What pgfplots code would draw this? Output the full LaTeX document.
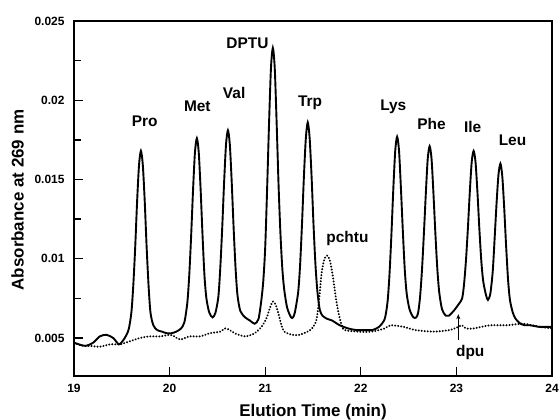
\documentclass[border=0pt]{standalone}
\usepackage{fontspec}
\setmainfont{Liberation Sans}
\usepackage{pgfplots}
\pgfplotsset{compat=1.18}
\usetikzlibrary{arrows.meta}
\begin{document}
\begin{tikzpicture}[x=1bp,y=1bp]
\begin{axis}[
  at={(0,0)}, anchor=south west,
  scale only axis, width=478bp, height=355bp,
  xmin=19, xmax=24, ymin=0.0026, ymax=0.025,
  xtick={19,20,21,22,23,24}, xticklabels={19,20,21,22,23,24},
  ytick={0.005,0.01,0.015,0.02,0.025}, yticklabels={0.005,0.01,0.015,0.02,0.025},
  minor ytick={0.0075,0.0125,0.0175,0.0225},
  scaled y ticks=false, scaled x ticks=false,
  xtick pos=bottom, ytick pos=left,
  tick align=inside, major tick length=9bp, minor tick length=7bp,
  every tick/.style={black, line width=1.3bp},
  axis line style={line width=1.5bp},
  ticklabel style={font=\fontsize{12}{14}\bfseries\selectfont},
  yticklabel style={xshift=-6bp},
  xticklabel style={yshift=-5bp},
  xlabel={Elution Time (min)},
  xlabel style={font=\fontsize{17}{20}\bfseries\selectfont, at={(axis description cs:0.5,-0.114)}, anchor=base},
  ylabel={Absorbance at 269 nm},
  ylabel style={font=\fontsize{17}{20}\bfseries\selectfont, at={(axis description cs:-0.118,0.496)}, anchor=center},
  clip=true,
]
% solid trace
\addplot[black, line width=1.9bp, smooth, tension=0.45] coordinates {
(19.00,0.0047) (19.05,0.0046) (19.12,0.0045) (19.20,0.0047) (19.27,0.0051) (19.34,0.0052)
(19.41,0.0050) (19.47,0.0046) (19.52,0.0049) (19.57,0.0055)
(19.60,0.0066) (19.62,0.0083) (19.64,0.0107) (19.66,0.0136) (19.68,0.0159) (19.70,0.0168)
(19.72,0.0159) (19.74,0.0136) (19.76,0.0107) (19.78,0.0083) (19.80,0.0066) (19.83,0.0058)
(19.87,0.0055) (19.92,0.0054) (19.97,0.0053) (20.02,0.0053) (20.07,0.0054) (20.12,0.0056)
(20.155,0.0060) (20.185,0.0072) (20.205,0.0089) (20.225,0.0114) (20.245,0.0143) (20.265,0.0167)
(20.285,0.0176) (20.305,0.0167) (20.325,0.0143) (20.345,0.0114) (20.365,0.0089) (20.385,0.0075)
(20.415,0.0066) (20.45,0.0063) (20.48,0.0066) (20.51,0.0076) (20.53,0.0094) (20.55,0.0119)
(20.57,0.0148) (20.59,0.0172) (20.61,0.0181) (20.63,0.0172) (20.65,0.0148) (20.67,0.0119)
(20.69,0.0094) (20.71,0.0077) (20.74,0.0067) (20.79,0.0063) (20.84,0.0061) (20.89,0.0059)
(20.93,0.0062) (20.96,0.0074) (20.98,0.0086) (21.00,0.0107) (21.02,0.0144) (21.04,0.0185)
(21.06,0.0220) (21.08,0.0233) (21.10,0.0220) (21.12,0.0185) (21.14,0.0146) (21.16,0.0115)
(21.18,0.0093) (21.20,0.0080) (21.23,0.0069) (21.27,0.0063) (21.29,0.0063) (21.31,0.0066)
(21.345,0.0079) (21.365,0.0096) (21.385,0.0122) (21.405,0.0152) (21.425,0.0176) (21.445,0.0186)
(21.465,0.0176) (21.485,0.0152) (21.505,0.0122) (21.525,0.0097) (21.545,0.0080) (21.57,0.0068)
(21.60,0.0064) (21.65,0.0062) (21.70,0.0061) (21.78,0.0058) (21.87,0.0056) (21.95,0.0055)
(22.04,0.0055) (22.12,0.0055) (22.19,0.0057) (22.25,0.0062)
(22.28,0.0073) (22.30,0.0090) (22.32,0.0115) (22.34,0.0144) (22.36,0.0168) (22.38,0.0177)
(22.40,0.0168) (22.42,0.0144) (22.44,0.0117) (22.46,0.0093) (22.48,0.0078) (22.51,0.0068)
(22.55,0.0063) (22.58,0.0063) (22.60,0.0066) (22.62,0.0076) (22.64,0.0093) (22.66,0.0116)
(22.68,0.0141) (22.70,0.0163) (22.72,0.0171) (22.74,0.0163) (22.76,0.0141) (22.78,0.0116)
(22.80,0.0094) (22.82,0.0079) (22.85,0.0068) (22.89,0.0064) (22.92,0.0064) (22.97,0.0067)
(23.02,0.0071) (23.06,0.0075) (23.08,0.0084) (23.10,0.0099) (23.12,0.0119) (23.14,0.0142)
(23.16,0.0161) (23.18,0.0168) (23.20,0.0161) (23.22,0.0142) (23.24,0.0119) (23.26,0.0099)
(23.28,0.0086) (23.31,0.0077) (23.33,0.0074) (23.355,0.0078) (23.38,0.0092) (23.40,0.0113)
(23.42,0.0135) (23.44,0.0153) (23.46,0.0160) (23.48,0.0152) (23.50,0.0132) (23.52,0.0108)
(23.54,0.0087) (23.56,0.0074) (23.59,0.0066) (23.62,0.0062) (23.67,0.0059) (23.72,0.0058)
(23.77,0.0058) (23.87,0.0057) (23.95,0.0057) (24.00,0.0057)
};
% dotted trace
\addplot[black, line width=2.2bp, line cap=round, dash pattern=on 0.01bp off 3bp, smooth, tension=0.45] coordinates {
(19.00,0.0047) (19.04,0.0046) (19.10,0.0045) (19.17,0.0045) (19.27,0.00445) (19.38,0.0046)
(19.48,0.0046) (19.59,0.0048) (19.69,0.0050) (19.79,0.0051) (19.90,0.0051) (20.00,0.0052)
(20.05,0.0051) (20.11,0.0049) (20.21,0.0051) (20.32,0.0051) (20.42,0.0053) (20.53,0.0054)
(20.58,0.0056) (20.63,0.0055) (20.68,0.0053) (20.79,0.0051) (20.89,0.0053) (20.96,0.0057)
(21.01,0.0062) (21.05,0.0069) (21.08,0.0073) (21.11,0.0071) (21.14,0.0065) (21.17,0.0058)
(21.20,0.0054) (21.28,0.0052) (21.36,0.0052) (21.47,0.0055) (21.53,0.0060) (21.56,0.0072)
(21.59,0.0091) (21.62,0.0100) (21.65,0.0102) (21.68,0.0098) (21.71,0.0088) (21.74,0.0075)
(21.77,0.0065) (21.80,0.0058) (21.83,0.0055) (21.97,0.0054) (22.11,0.0054) (22.25,0.0056)
(22.31,0.0058) (22.45,0.0057) (22.57,0.0055) (22.76,0.0054) (22.93,0.0055) (23.02,0.0057)
(23.06,0.0058) (23.10,0.0056) (23.18,0.0056) (23.35,0.0058) (23.53,0.0058) (23.70,0.0059)
(23.87,0.0057) (24.00,0.0056)
};
% peak labels
\begin{scope}[every node/.style={font=\fontsize{15.5}{18}\bfseries\selectfont, anchor=base, inner sep=0pt}]
\node at (axis cs:19.74,0.01833) {Pro};
\node at (axis cs:20.29,0.01928) {Met};
\node at (axis cs:20.675,0.02012) {Val};
\node at (axis cs:20.815,0.02328) {DPTU};
\node at (axis cs:21.47,0.01959) {Trp};
\node at (axis cs:22.34,0.01934) {Lys};
\node at (axis cs:22.74,0.01817) {Phe};
\node at (axis cs:23.17,0.01795) {Ile};
\node at (axis cs:23.587,0.01713) {Leu};
\node at (axis cs:21.86,0.0110) {pchtu};
\node at (axis cs:23.145,0.00382) {dpu};
\end{scope}
\draw[black, line width=1.2bp, -{Stealth[length=5bp,width=4bp]}] (axis cs:23.02,0.0049) -- (axis cs:23.02,0.0065);
\end{axis}
\pgfresetboundingbox
\path[use as bounding box] (-74,-43) rectangle (486,376);
\end{tikzpicture}
\end{document}
